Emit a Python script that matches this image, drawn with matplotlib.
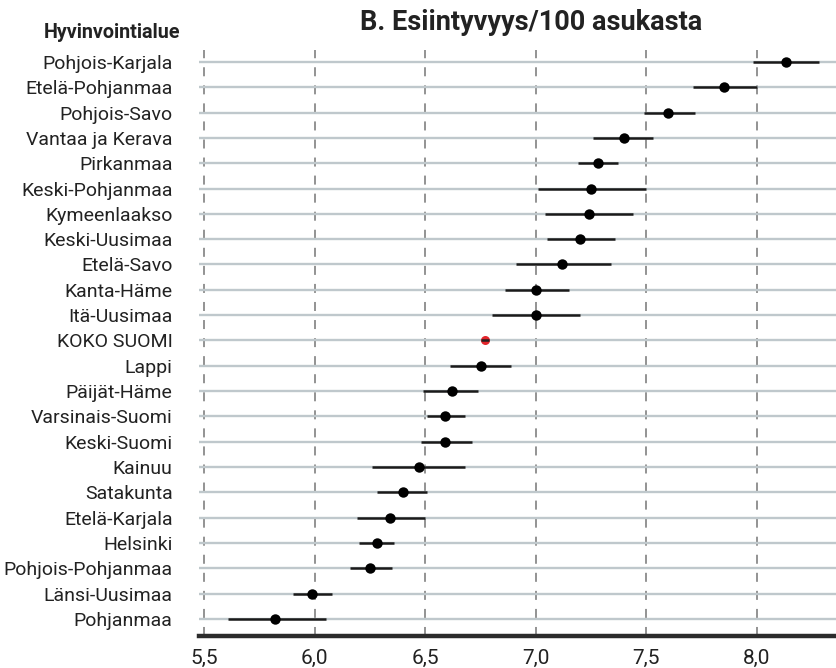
import matplotlib
matplotlib.use("Agg")
import matplotlib.pyplot as plt

plt.rcParams['font.family'] = ['Roboto', 'DejaVu Sans']

regions = [
    "Pohjois-Karjala", "Etelä-Pohjanmaa", "Pohjois-Savo", "Vantaa ja Kerava",
    "Pirkanmaa", "Keski-Pohjanmaa", "Kymeenlaakso", "Keski-Uusimaa",
    "Etelä-Savo", "Kanta-Häme", "Itä-Uusimaa", "KOKO SUOMI", "Lappi",
    "Päijät-Häme", "Varsinais-Suomi", "Keski-Suomi", "Kainuu", "Satakunta",
    "Etelä-Karjala", "Helsinki", "Pohjois-Pohjanmaa", "Länsi-Uusimaa",
    "Pohjanmaa",
]
estimate = [
    8.13, 7.85, 7.60, 7.40, 7.28, 7.25, 7.24, 7.20, 7.12, 7.00, 7.00, 6.77,
    6.75, 6.62, 6.59, 6.59, 6.47, 6.40, 6.34, 6.28, 6.25, 5.99, 5.82,
]
ci_low = [
    7.98, 7.71, 7.49, 7.26, 7.19, 7.01, 7.04, 7.05, 6.91, 6.86, 6.80, 6.75,
    6.61, 6.49, 6.51, 6.48, 6.26, 6.28, 6.19, 6.20, 6.16, 5.90, 5.61,
]
ci_high = [
    8.28, 8.00, 7.72, 7.53, 7.37, 7.50, 7.44, 7.36, 7.34, 7.15, 7.20, 6.79,
    6.89, 6.74, 6.68, 6.71, 6.68, 6.51, 6.50, 6.36, 6.35, 6.08, 6.05,
]
x_ticks = [5.5, 6.0, 6.5, 7.0, 7.5, 8.0]
x_tick_labels = ["5,5", "6,0", "6,5", "7,0", "7,5", "8,0"]
total_label = "KOKO SUOMI"

W, H = 837, 668
fig = plt.figure(figsize=(W / 100, H / 100), dpi=100)
ax = fig.add_axes([199 / W, 1 - 636 / H, 1 - 199 / W, (636 - 50) / H])

n = len(regions)
ys = list(range(n))

# vertical dashed grid
for xv in x_ticks:
    ax.axvline(xv, color="#8a8a8a", lw=1.3, ls=(0, (5, 5)), zorder=1)

# horizontal row guides
for y in ys:
    ax.axhline(y, color="#bfc8cc", lw=1.7, zorder=2)

for y, name, est, lo, hi in zip(ys, regions, estimate, ci_low, ci_high):
    if name == total_label:
        ax.plot([est], [y], "o", color="#e3252b", ms=6.5, mec="none", zorder=4)
        ax.plot([lo, hi], [y, y], color="#222222", lw=1.8, zorder=5,
                solid_capstyle="butt")
    else:
        ax.plot([lo, hi], [y, y], color="#1a1a1a", lw=1.8, zorder=4,
                solid_capstyle="butt")
        ax.plot([est], [y], "o", color="black", ms=7.5, mec="none", zorder=5)

ax.set_xlim(5.477, 8.362)
ax.set_ylim(n - 1 + 0.67, -0.47)

ax.set_yticks(ys)
ax.set_yticklabels(regions, fontsize=14, color="#222222")
ax.set_xticks(x_ticks)
ax.set_xticklabels(x_tick_labels, fontsize=15, color="#222222")
ax.tick_params(axis="y", length=0, pad=19)
ax.tick_params(axis="x", length=0, pad=9)

for side in ("top", "right", "left"):
    ax.spines[side].set_visible(False)
ax.spines["bottom"].set_color("#2b2b2b")
ax.spines["bottom"].set_linewidth(3.2)
ax.spines["bottom"].set_zorder(6)

fig.text(531 / W, 1 - 22 / H, "B. Esiintyvyys/100 asukasta", ha="center",
         va="center", fontsize=19.5, fontweight="bold", color="#222222")
fig.text(180 / W, 1 - 33 / H, "Hyvinvointialue", ha="right", va="center",
         fontsize=14.2, fontweight="bold", color="#222222")

fig.savefig("out.png", dpi=100)
